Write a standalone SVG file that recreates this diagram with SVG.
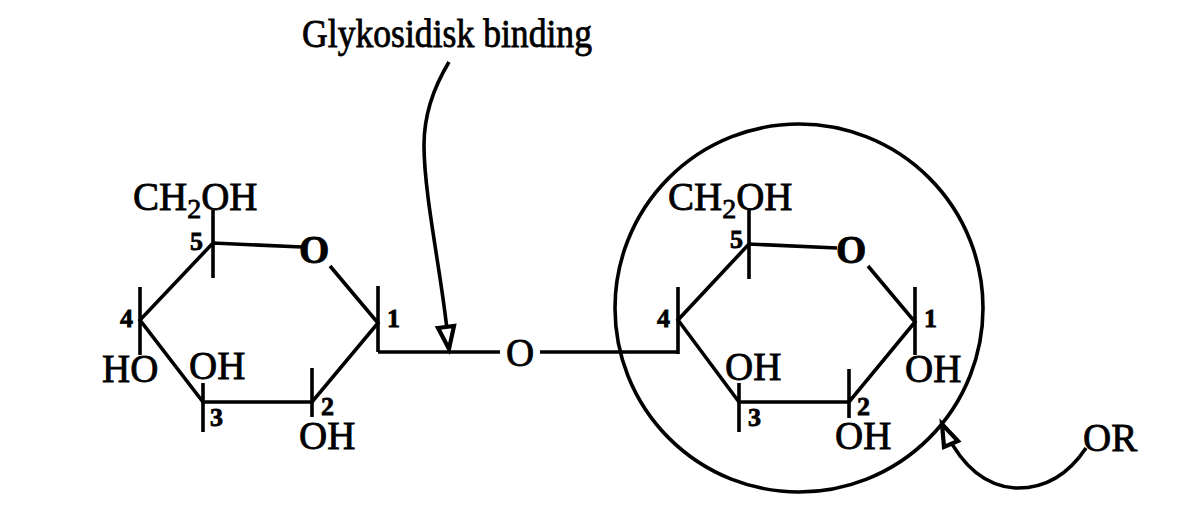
<svg xmlns="http://www.w3.org/2000/svg" width="1200" height="511" viewBox="0 0 1200 511">
<style>
text{font-family:"Liberation Serif","Times New Roman",serif;fill:#000;stroke:#000;stroke-width:.8}
.l{font-size:39px}
.n{font-size:26px;font-weight:bold}
.o{font-size:39px;font-weight:bold}
.b{fill:none;stroke:#000;stroke-width:3.6}
.h{fill:#fff;stroke:#000;stroke-width:4.2;stroke-linejoin:miter}
</style>
<rect width="1200" height="511" fill="#fff"/>
<g id="connectors">
<path class="b" d="M449 62C432 90 424 118 424 145C424 200 445 290 449 350"/>
<path class="b" d="M1086 448C1068 475 1045 489 1015 488C985 486 962 465 946 433"/>
<path class="b" d="M378 352H500"/>
<path class="b" d="M540 352H678"/>
</g>
<g id="circle"><circle class="b" cx="799" cy="308" r="184"/></g>
<g id="arrowhead-binding"><path class="h" d="M438 328L454 326L449 349Z"/></g>
<g id="arrowhead-or"><path class="h" d="M942 424L944 447L958 441Z"/></g>
<g id="ring-left">
<path class="b" d="M302 247L213 243L140 320L203 402H312L378 323L330 266"/>
<path class="b" d="M213 210V278M140 287V355M203 383V432M312 368V417M378 286V352"/>
</g>
<g id="ring-right">
<path class="b" d="M837 248L749 244L678 320L739 402H849L915 322L868 266"/>
<path class="b" d="M749 210V279M678 287V354M739 383V432M849 369V418M915 287V355"/>
</g>
<g id="label-title"><text class="l" x="302" y="47" textLength="290" lengthAdjust="spacingAndGlyphs">Glykosidisk binding</text></g>
<g id="left-labels">
<text class="l" x="133" y="210">CH<tspan font-size="28" dy="8">2</tspan><tspan dy="-8">OH</tspan></text>
<text class="o" x="299" y="263">O</text>
<text class="n" x="190" y="250">5</text>
<text class="n" x="387" y="327">1</text>
<text class="n" x="120" y="327">4</text>
<text class="n" x="210" y="426">3</text>
<text class="n" x="321" y="415">2</text>
<text class="l" x="102" y="382">HO</text>
<text class="l" x="189" y="379">OH</text>
<text class="l" x="299" y="449">OH</text>
</g>
<g id="bridge-o"><text class="l" x="506" y="366">O</text></g>
<g id="right-labels">
<text class="l" x="668" y="210">CH<tspan font-size="28" dy="8">2</tspan><tspan dy="-8">OH</tspan></text>
<text class="o" x="836" y="263">O</text>
<text class="n" x="730" y="248">5</text>
<text class="n" x="924" y="327">1</text>
<text class="n" x="657" y="327">4</text>
<text class="n" x="748" y="426">3</text>
<text class="n" x="857" y="415">2</text>
<text class="l" x="725" y="380">OH</text>
<text class="l" x="905" y="382">OH</text>
<text class="l" x="835" y="449">OH</text>
</g>
<g id="label-or"><text class="l" x="1083" y="451">OR</text></g>
</svg>
